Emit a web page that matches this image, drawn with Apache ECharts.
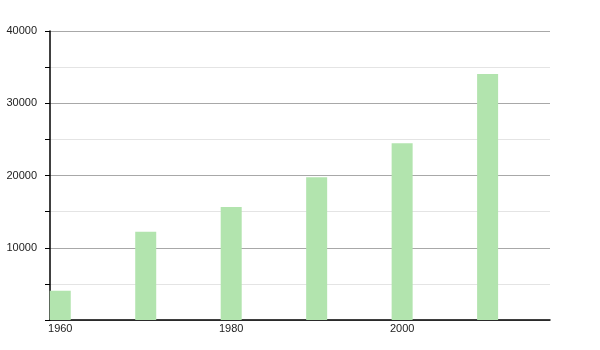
<!DOCTYPE html>
<html>
<head>
<meta charset="utf-8">
<script src="https://cdn.jsdelivr.net/npm/echarts@6/dist/echarts.min.js"></script>
<style>html,body{margin:0;padding:0;background:#fff}#c{width:600px;height:350px}</style>
</head>
<body>
<div id="c"></div>
<script>
var years = [1960, 1970, 1980, 1990, 2000, 2010];
var values = [4050, 12200, 15650, 19750, 24450, 34050];
var xTickLabels = [1960, 1980, 2000];
var yTickLabels = [10000, 20000, 30000, 40000];

var chart = echarts.init(document.getElementById('c'));
chart.setOption({
  animation: false,
  grid: { left: 50, right: 50, top: 31, bottom: 30, containLabel: false },
  xAxis: {
    type: 'value',
    min: 1958.8,
    max: 2017.3,
    axisLine: { show: true, onZero: false, lineStyle: { color: '#000', width: 1.5 } },
    axisTick: { show: false },
    splitLine: { show: false },
    axisLabel: {
      customValues: xTickLabels,
      color: '#222',
      fontFamily: 'Liberation Sans, Arial, sans-serif',
      fontSize: 11,
      margin: 3,
      hideOverlap: false,
      formatter: function (v) { return String(v); }
    }
  },
  yAxis: {
    type: 'value',
    min: 0,
    max: 40000,
    interval: 5000,
    axisLine: { show: true, lineStyle: { color: '#000', width: 1.5 } },
    axisTick: { show: true, length: 5, lineStyle: { color: '#000' } },
    splitLine: { show: true, lineStyle: { color: ['#a8a8a8', '#e4e4e4'], width: 1 } },
    axisLabel: {
      color: '#222',
      fontFamily: 'Liberation Sans, Arial, sans-serif',
      fontSize: 11,
      margin: 13,
      formatter: function (v) {
        return yTickLabels.indexOf(v) >= 0 ? String(v) : '';
      }
    }
  },
  series: [{
    type: 'bar',
    barWidth: 21,
    itemStyle: { color: '#b2e4ae' },
    data: years.map(function (y, i) { return [y, values[i]]; })
  }]
});
</script>
</body>
</html>
